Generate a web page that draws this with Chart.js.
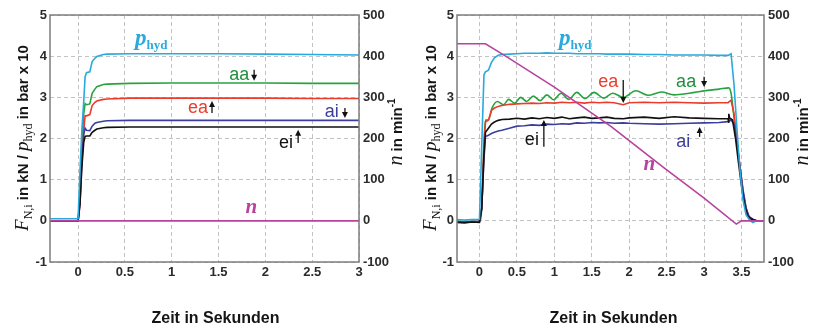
<!DOCTYPE html>
<html lang="de">
<head>
<meta charset="utf-8">
<title>Normalkräfte und Drehzahl</title>
<script src="https://cdn.jsdelivr.net/npm/chart.js@4.4.1/dist/chart.umd.min.js"></script>
<style>
  html, body { margin: 0; padding: 0; background: #fff; }
  canvas { position: absolute; top: 0; }
  #links { left: 0; }
  #rechts { left: 407px; }
</style>
</head>
<body>
<canvas id="links" width="407" height="328"></canvas>
<canvas id="rechts" width="408" height="328"></canvas>
<script>
// Achsen
const xTicksLinks = [0, 0.5, 1, 1.5, 2, 2.5, 3];
const xTicksRechts = [0, 0.5, 1, 1.5, 2, 2.5, 3, 3.5];
const yTicks = [-1, 0, 1, 2, 3, 4, 5];
const nTicks = [-100, 0, 100, 200, 300, 400, 500];

// linkes Diagramm: Scheibe steht (n = 0)
const zeitLinks = [-0.3, 0, 0.02, 0.04, 0.06, 0.075, 0.09, 0.125, 0.15, 0.18, 0.2, 0.27, 0.31, 0.55, 1, 1.5, 2, 2.5, 3];
const pHydLinks = [0.05, 0.05, 1.2, 2.2, 2.9, 3.5, 3.6, 3.62, 3.87, 3.95, 3.99, 4.04, 4.05, 4.06, 4.06, 4.06, 4.05, 4.04, 4.03];
const aaLinks = [0, 0, 0.6, 1.8, 2.6, 2.85, 2.82, 2.84, 3.1, 3.2, 3.26, 3.31, 3.32, 3.34, 3.35, 3.35, 3.35, 3.34, 3.34];
const eaLinks = [0, 0, 0.4, 1.4, 2.2, 2.55, 2.55, 2.58, 2.8, 2.88, 2.91, 2.95, 2.96, 2.98, 2.98, 2.98, 2.98, 2.97, 2.97];
const aiLinks = [0, 0, 0.5, 1.5, 2.1, 2.25, 2.2, 2.19, 2.3, 2.37, 2.39, 2.42, 2.43, 2.44, 2.44, 2.44, 2.44, 2.44, 2.44];
const eiLinks = [0, 0, 0.4, 1.3, 1.9, 2.05, 2.06, 2.06, 2.15, 2.2, 2.23, 2.26, 2.27, 2.28, 2.28, 2.28, 2.28, 2.28, 2.28];
const zeitNLinks = [-0.3, 3];
const nLinks = [0, 0];

// rechtes Diagramm: Abbremsen
const zeitRechts = [-0.3, -0.2, -0.1, 0, 0.03, 0.06, 0.08, 0.12, 0.16, 0.2,
  0.25, 0.3, 0.4, 0.5, 0.6, 0.7, 0.8, 0.9, 1.0, 1.1,
  1.2, 1.3, 1.4, 1.5, 1.6, 1.7, 1.8, 1.92, 2.0, 2.2,
  2.4, 2.6, 2.8, 3.0, 3.2, 3.32, 3.36, 3.4, 3.44, 3.48,
  3.52, 3.56, 3.6, 3.65, 3.7, 3.8];
const pHydRechts = [0.03, 0.02, 0.03, 0.04, 1.8, 3.55, 3.62, 3.66, 3.85, 3.96,
  4.02, 4.04, 4.05, 4.06, 4.07, 4.07, 4.07, 4.08, 4.07, 4.07,
  4.07, 4.06, 4.06, 4.06, 4.06, 4.05, 4.05, 4.05, 4.05, 4.04,
  4.04, 4.03, 4.03, 4.03, 4.02, 4.02, 4.06, 3.3, 2.2, 1.2,
  0.5, 0.15, 0.04, -0.04, 0.0, 0.0];
const eaRechts = [-0.02, -0.03, -0.02, -0.01, 0.3, 1.8, 2.4, 2.45, 2.68, 2.74,
  2.78, 2.8, 2.83, 2.84, 2.85, 2.86, 2.85, 2.87, 2.86, 2.88,
  2.87, 2.88, 2.86, 2.88, 2.87, 2.88, 2.87, 2.82, 2.87, 2.88,
  2.87, 2.88, 2.87, 2.86, 2.87, 2.87, 2.93, 2.6, 1.9, 1.3,
  0.7, 0.3, 0.1, 0.04, 0.0, 0.0];
const aiRechts = [-0.02, -0.03, -0.02, -0.02, 0.3, 1.5, 2.05, 2.08, 2.12, 2.15,
  2.18, 2.2, 2.25, 2.3, 2.31, 2.33, 2.32, 2.35, 2.34, 2.36,
  2.35, 2.38, 2.37, 2.39, 2.38, 2.39, 2.37, 2.38, 2.37, 2.36,
  2.35, 2.36, 2.37, 2.38, 2.39, 2.41, 2.45, 2.35, 1.85, 1.3,
  0.75, 0.32, 0.1, 0.04, 0.0, 0.0];
const zeitEiRechts = [-0.3, -0.2, -0.1, 0, 0.03, 0.06, 0.08, 0.12, 0.16, 0.2,
  0.25, 0.3, 0.4, 0.5, 0.6, 0.7, 0.8, 0.9, 1.0, 1.1,
  1.2, 1.3, 1.4, 1.5, 1.6, 1.7, 1.8, 1.92, 2.0, 2.2,
  2.4, 2.6, 2.8, 3.0, 3.2, 3.32, 3.33, 3.33, 3.34, 3.38,
  3.42, 3.46, 3.5, 3.54, 3.58, 3.62, 3.7, 3.8];
const eiRechts = [-0.04, -0.05, -0.03, -0.04, 0.3, 1.6, 2.15, 2.25, 2.35, 2.4,
  2.44, 2.46, 2.47, 2.49, 2.47, 2.5, 2.48, 2.51, 2.49, 2.52,
  2.48, 2.5, 2.52, 2.49, 2.5, 2.52, 2.49, 2.48, 2.5, 2.52,
  2.49, 2.53, 2.5, 2.49, 2.48, 2.48, 2.38, 2.6, 2.5, 2.45,
  2.0, 1.4, 0.85, 0.4, 0.13, 0.05, 0.0, 0.0];
const zeitAaRechts = [-0.3, 0, 0.03, 0.06, 0.08, 0.12, 0.17, 0.24, 0.32, 0.39,
  0.47, 0.55, 0.63, 0.72, 0.81, 0.9, 0.99, 1.09, 1.19, 1.3,
  1.41, 1.53, 1.66, 1.78, 1.92, 2.09, 2.25, 2.43, 2.6, 2.8,
  3.05, 3.2, 3.33, 3.36, 3.4, 3.44, 3.48, 3.52, 3.56, 3.6,
  3.65, 3.7, 3.8];
const aaRechts = [-0.02, -0.01, 0.3, 1.9, 2.45, 2.45, 2.75, 2.9, 2.82, 2.95,
  2.86, 3.0, 2.9, 3.03, 2.92, 3.06, 2.94, 3.1, 2.95, 3.12,
  2.97, 3.12, 2.98, 3.1, 3.0, 3.16, 3.05, 3.13, 3.06, 3.1,
  3.17, 3.2, 3.23, 3.1, 2.5, 1.9, 1.3, 0.7, 0.3, 0.1,
  0.03, 0.0, 0.0];
const zeitNRechts = [-0.3, 0.08, 0.35, 1.0, 1.76, 2.47, 3.0, 3.43, 3.5, 3.8];
const nRechts = [430, 430, 400, 325, 229, 128, 55, -8, 0, 0];

const farben = { phyd: '#29a9dd', aa: '#27a33e', ea: '#ec3b2b', ai: '#3b3e9e', ei: '#111111', n: '#b6449f' };
const sans = '"Liberation Sans", Arial, sans-serif';
const serif = '"Liberation Serif", "Times New Roman", serif';

const titelX = [{ text: 'Zeit in Sekunden', font: 'bold 16px ' + sans }];
const titelY = [
  { text: 'F', font: 'italic 19px ' + serif },
  { text: 'N,i', font: '12px ' + serif, dy: 4 },
  { text: ' in kN / ', font: 'bold 15px ' + sans },
  { text: 'p', font: 'italic 19px ' + serif },
  { text: 'hyd', font: '12px ' + serif, dy: 4 },
  { text: ' in bar x 10', font: 'bold 15px ' + sans }
];
const titelN = [
  { text: 'n', font: 'italic 20px ' + serif },
  { text: ' in min', font: 'bold 15px ' + sans },
  { text: '-1', font: 'bold 10px ' + sans, dy: -7 }
];

function punkte(zeit, werte) {
  return zeit.map((t, i) => ({ x: t, y: werte[i] }));
}

function linie(label, zeit, werte, farbe, achse, extra) {
  return Object.assign({
    label: label,
    data: punkte(zeit, werte),
    borderColor: farbe,
    borderWidth: 1.6,
    pointRadius: 0,
    tension: 0,
    fill: false,
    yAxisID: achse
  }, extra || {});
}

function kurve(text, farbe) {
  return [{ text: text, font: '18px ' + sans, farbe: farbe }];
}
const pHydText = [
  { text: 'p', font: 'italic bold 23px ' + serif, farbe: farben.phyd },
  { text: 'hyd', font: 'bold 13px ' + serif, farbe: farben.phyd, dy: 4 }
];
const nText = [{ text: 'n', font: 'italic bold 21px ' + serif, farbe: farben.n }];

function reicherText(ctx, teile, cx, cy, drehen) {
  ctx.save();
  ctx.translate(cx, cy);
  if (drehen) ctx.rotate(-Math.PI / 2);
  ctx.textAlign = 'left';
  ctx.textBaseline = 'alphabetic';
  let breite = 0;
  teile.forEach(t => { ctx.font = t.font; breite += ctx.measureText(t.text).width; });
  let x = -breite / 2;
  teile.forEach(t => {
    ctx.font = t.font;
    ctx.fillStyle = t.farbe || '#151515';
    ctx.fillText(t.text, x, t.dy || 0);
    x += ctx.measureText(t.text).width;
  });
  ctx.restore();
}

function pfeil(ctx, x, von, bis) {
  const r = bis < von ? -1 : 1;
  ctx.strokeStyle = '#111';
  ctx.fillStyle = '#111';
  ctx.lineWidth = 1.3;
  ctx.beginPath();
  ctx.moveTo(x, von);
  ctx.lineTo(x, bis - r * 5);
  ctx.stroke();
  ctx.beginPath();
  ctx.moveTo(x, bis);
  ctx.lineTo(x - 3, bis - r * 6);
  ctx.lineTo(x + 3, bis - r * 6);
  ctx.closePath();
  ctx.fill();
}

const zeichnung = {
  id: 'zeichnung',
  afterDraw(chart, args, o) {
    const ctx = chart.ctx, ca = chart.chartArea;
    const xs = chart.scales.x, ys = chart.scales.y;
    ctx.save();
    ctx.strokeStyle = '#7d7d7d';
    ctx.lineWidth = 1.5;
    ctx.strokeRect(ca.left, ca.top, ca.right - ca.left, ca.bottom - ca.top);
    o.texte.forEach(t => reicherText(ctx, t.teile, xs.getPixelForValue(t.x), ys.getPixelForValue(t.y), false));
    o.pfeile.forEach(p => pfeil(ctx, xs.getPixelForValue(p.x), ys.getPixelForValue(p.von), ys.getPixelForValue(p.bis)));
    reicherText(ctx, titelX, (ca.left + ca.right) / 2 + o.titelVersatz, 323, false);
    reicherText(ctx, titelY, o.yTitelX, 138, true);
    reicherText(ctx, titelN, o.nTitelX, 132, true);
    ctx.restore();
  }
};

function skalen(xTicks, xMax, rechtsBreite) {
  const tickFont = { family: sans, size: 13, weight: 'bold' };
  const tickFarbe = '#2b2b2b';
  return {
    x: {
      type: 'linear', min: -0.3, max: xMax,
      afterBuildTicks: s => { s.ticks = xTicks.map(v => ({ value: v })); },
      afterFit: s => { s.height = 66; },
      ticks: { font: tickFont, color: tickFarbe, padding: 3, callback: v => String(v) },
      grid: { color: '#c2c2c2', lineWidth: 1, drawTicks: false },
      border: { display: false, dash: [4, 3] }
    },
    y: {
      position: 'left', min: -1, max: 5,
      afterBuildTicks: s => { s.ticks = yTicks.map(v => ({ value: v })); },
      afterFit: s => { s.width = 50; },
      ticks: { font: tickFont, color: tickFarbe, padding: 3, callback: v => String(v) },
      grid: { color: '#c2c2c2', lineWidth: 1, drawTicks: false },
      border: { display: false, dash: [4, 3] }
    },
    n: {
      position: 'right', min: -100, max: 500,
      afterBuildTicks: s => { s.ticks = nTicks.map(v => ({ value: v })); },
      afterFit: s => { s.width = rechtsBreite; },
      ticks: { font: tickFont, color: tickFarbe, padding: 4, callback: v => String(v) },
      grid: { display: false, drawTicks: false },
      border: { display: false }
    }
  };
}

function diagramm(id, datensaetze, xTicks, xMax, rechtsBreite, zusatz) {
  return new Chart(document.getElementById(id).getContext('2d'), {
    type: 'line',
    data: { datasets: datensaetze },
    options: {
      responsive: false,
      animation: false,
      layout: { padding: { top: 15, left: 0, right: 0, bottom: 0 } },
      scales: skalen(xTicks, xMax, rechtsBreite),
      plugins: { legend: { display: false }, tooltip: { enabled: false }, zeichnung: zusatz }
    },
    plugins: [zeichnung]
  });
}

diagramm('links', [
  linie('n', zeitNLinks, nLinks, farben.n, 'n'),
  linie('p_hyd', zeitLinks, pHydLinks, farben.phyd, 'y'),
  linie('ei', zeitLinks, eiLinks, farben.ei, 'y'),
  linie('ai', zeitLinks, aiLinks, farben.ai, 'y'),
  linie('ea', zeitLinks, eaLinks, farben.ea, 'y'),
  linie('aa', zeitLinks, aaLinks, farben.aa, 'y')
], xTicksLinks, 3, 48, {
  titelVersatz: 11, yTitelX: 28, nTitelX: 402,
  texte: [
    { teile: pHydText, x: 0.78, y: 4.27 },
    { teile: kurve('aa', '#1f8f3c'), x: 1.72, y: 3.43 },
    { teile: kurve('ea', farben.ea), x: 1.28, y: 2.62 },
    { teile: kurve('ai', farben.ai), x: 2.71, y: 2.52 },
    { teile: kurve('ei', farben.ei), x: 2.22, y: 1.77 },
    { teile: nText, x: 1.85, y: 0.19 }
  ],
  pfeile: [
    { x: 1.88, von: 3.67, bis: 3.40 },
    { x: 1.43, von: 2.62, bis: 2.91 },
    { x: 2.85, von: 2.74, bis: 2.50 },
    { x: 2.35, von: 1.89, bis: 2.21 }
  ]
});

diagramm('rechts', [
  linie('n', zeitNRechts, nRechts, farben.n, 'n'),
  linie('p_hyd', zeitRechts, pHydRechts, farben.phyd, 'y'),
  linie('ei', zeitEiRechts, eiRechts, farben.ei, 'y'),
  linie('ai', zeitRechts, aiRechts, farben.ai, 'y'),
  linie('ea', zeitRechts, eaRechts, farben.ea, 'y'),
  linie('aa', zeitAaRechts, aaRechts, farben.aa, 'y', { cubicInterpolationMode: 'monotone' })
], xTicksRechts, 3.8, 51, {
  titelVersatz: 3, yTitelX: 29, nTitelX: 401,
  texte: [
    { teile: pHydText, x: 1.28, y: 4.27 },
    { teile: kurve('ea', farben.ea), x: 1.72, y: 3.25 },
    { teile: kurve('aa', '#1f8f3c'), x: 2.76, y: 3.25 },
    { teile: kurve('ei', farben.ei), x: 0.70, y: 1.84 },
    { teile: kurve('ai', farben.ai), x: 2.72, y: 1.80 },
    { teile: nText, x: 2.27, y: 1.24 }
  ],
  pfeile: [
    { x: 1.92, von: 3.42, bis: 2.86 },
    { x: 3.0, von: 3.5, bis: 3.25 },
    { x: 0.86, von: 1.8, bis: 2.45 },
    { x: 2.94, von: 2.04, bis: 2.28 }
  ]
});
</script>
</body>
</html>
